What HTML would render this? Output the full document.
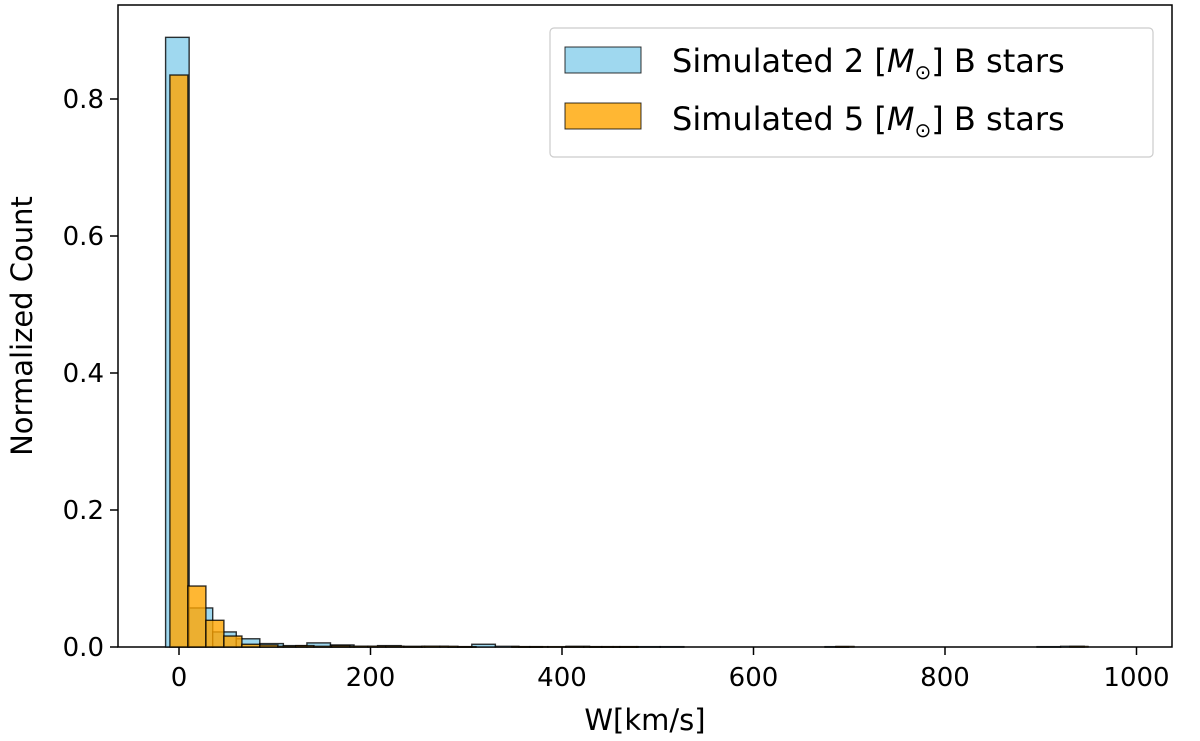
<!DOCTYPE html>
<html><head><meta charset="utf-8"><style>
html,body{margin:0;padding:0;background:#fff;}
svg{display:block;font-family:"DejaVu Sans","Liberation Sans",sans-serif;}
</style></head><body>
<svg id="chart" width="1200" height="741">
<rect x="118" y="5" width="1054" height="642" fill="none" stroke="#000" stroke-width="1.5"/>
<g id="bars"></g>
<g id="axes"></g>
<text x="645" y="730" font-size="29" text-anchor="middle">W[km/s]</text>
<text transform="translate(32,326) rotate(-90)" font-size="29" text-anchor="middle">Normalized Count</text>
<g>
<rect x="550" y="28" width="603" height="129" rx="4" fill="#fff" stroke="#ccc" stroke-width="1.2"/>
<g>
<rect x="565" y="47" width="76" height="26" fill="#87CEEB" fill-opacity="0.8" stroke="#000" stroke-opacity="0.8"/>
<text x="672" y="72" font-size="32">Simulated 2 [<tspan font-style="italic">M</tspan><tspan font-size="20" dy="7">⊙</tspan><tspan dy="-7">] B stars</tspan></text>
</g>
<g>
<rect x="565" y="103" width="76" height="26" fill="#FFA500" fill-opacity="0.8" stroke="#000" stroke-opacity="0.8"/>
<text x="672" y="130" font-size="32">Simulated 5 [<tspan font-style="italic">M</tspan><tspan font-size="20" dy="7">⊙</tspan><tspan dy="-7">] B stars</tspan></text>
</g>
</g>
</svg>
<script>
const xTicks=[0,200,400,600,800,1000];
const yTicks=[0.0,0.2,0.4,0.6,0.8];
const blueStart=-14, blueWidth=24.6;
const blueValues=[0.89,0.057,0.022,0.012,0.005,0.002,0.006,0.003,0.001,0.002,0.001,0.001,0.0005,0.004,0.001,0.0005,0,0.001,0.0005,0.0005,0.0005,0.0005,0,0,0,0,0,0,0.0005,0,0,0,0,0,0,0,0,0.0005,0.001,0];
const orangeStart=-9.5, orangeWidth=18.8;
const orangeValues=[0.835,0.089,0.039,0.016,0.004,0.003,0.001,0.002,0.001,0.002,0.001,0.001,0.001,0.0005,0.001,0.001,0.0005,0,0,0.0005,0.0005,0.0005,0.0005,0.0005,0.0005,0.0005,0,0,0,0,0,0,0,0,0,0,0,0.0008,0,0,0,0,0,0,0,0,0,0,0,0,0.0008,0];
const NS='http://www.w3.org/2000/svg';
const xs=v=>179+(v-0)*0.9575;
const ys=v=>647-v*685;
const bars=document.getElementById('bars'), axes=document.getElementById('axes');
function drawSeries(start,w,vals,fill,name){
  vals.forEach((v,i)=>{
    if(v<=0) return;
    const r=document.createElementNS(NS,'rect');
    const x0=xs(start+i*w), x1=xs(start+(i+1)*w);
    r.setAttribute('x',x0);r.setAttribute('y',ys(v));
    r.setAttribute('width',x1-x0);r.setAttribute('height',Math.max(ys(0)-ys(v),0.5));
    r.setAttribute('fill',fill);r.setAttribute('fill-opacity','0.8');
    r.setAttribute('stroke','#000');r.setAttribute('stroke-opacity','0.8');r.setAttribute('stroke-width','1.4');
    
    
    bars.appendChild(r);
  });
}
drawSeries(blueStart,blueWidth,blueValues,'#87CEEB','blue');
drawSeries(orangeStart,orangeWidth,orangeValues,'#FFA500','orange');
xTicks.forEach(t=>{
  const l=document.createElementNS(NS,'line');
  l.setAttribute('x1',xs(t));l.setAttribute('x2',xs(t));l.setAttribute('y1',647);l.setAttribute('y2',655);
  l.setAttribute('stroke','#000');l.setAttribute('stroke-width','1.5');
  
  
  axes.appendChild(l);
  const tx=document.createElementNS(NS,'text');
  tx.setAttribute('x',xs(t));tx.setAttribute('y',686);tx.setAttribute('font-size','26');tx.setAttribute('text-anchor','middle');
  tx.textContent=t;
  
  
  axes.appendChild(tx);
});
yTicks.forEach(t=>{
  const l=document.createElementNS(NS,'line');
  l.setAttribute('x1',110);l.setAttribute('x2',118);l.setAttribute('y1',ys(t));l.setAttribute('y2',ys(t));
  l.setAttribute('stroke','#000');l.setAttribute('stroke-width','1.5');
  
  
  axes.appendChild(l);
  const tx=document.createElementNS(NS,'text');
  tx.setAttribute('x',104);tx.setAttribute('y',ys(t)+9);tx.setAttribute('font-size','26');tx.setAttribute('text-anchor','end');
  tx.textContent=t.toFixed(1);
  
  
  axes.appendChild(tx);
});
</script>
</body></html>
